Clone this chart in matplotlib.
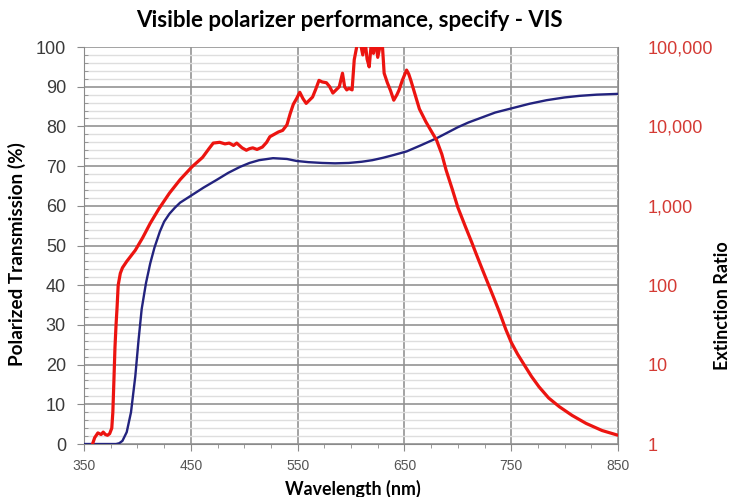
#!/usr/bin/env python3
"""Visible polarizer performance chart"""
import numpy as np
import matplotlib.pyplot as plt
from matplotlib.ticker import MultipleLocator, FixedLocator, FuncFormatter

plt.rcParams['font.family'] = ['Liberation Sans', 'DejaVu Sans']

# polarized transmission (%)
trans_wl = [350, 380, 383, 386, 390, 394, 398, 401, 404, 408, 412, 416, 421,
            425, 430, 435, 440, 451, 462, 474, 485, 496, 505, 514, 527, 540,
            549, 560, 573, 585, 598, 610, 620, 630, 640, 652, 665, 680, 690,
            700, 710, 720, 735, 751, 767, 783, 800, 814, 830, 850]
trans_pct = [0, 0, 0.2, 0.8, 3, 8, 17, 26, 34, 40.5, 45.5, 49.5, 53.5,
             56, 58, 59.5, 60.8, 62.7, 64.6, 66.5, 68.3, 69.8, 70.8, 71.5, 72,
             71.8, 71.3, 71.0, 70.8, 70.7, 70.8, 71.1, 71.5, 72.1, 72.8, 73.7,
             75.2, 77, 78.4, 79.8, 81, 82, 83.5, 84.6, 85.7, 86.6, 87.3, 87.7,
             88, 88.2]

# extinction ratio (log10)
ext_wl = [358, 360, 363, 366, 368, 370, 372, 374, 376, 377, 378, 379, 380, 381,
          382, 384, 386, 390, 394, 398, 405, 412, 420, 430, 440, 451, 461, 467,
          471, 477, 482, 486, 490, 493, 498, 502, 505, 508, 512, 517, 521, 524,
          528, 532, 536, 540, 543, 546, 549, 552, 555, 558, 561, 564, 567, 570,
          573, 577, 580, 583, 586, 589, 592, 594, 596, 598, 601, 603, 606, 608,
          611, 613, 615, 617, 619, 621, 623, 625, 627, 629, 631, 634, 637, 640,
          643, 645, 648, 652, 654, 656, 660, 664, 670, 676, 680, 685, 689, 695,
          700, 707, 713, 717, 722, 728, 734, 739, 745, 750, 756, 762, 769, 776,
          785, 795, 807, 820, 835, 850]
ext_log10 = [0.0, 0.08, 0.14, 0.12, 0.15, 0.12, 0.11, 0.13, 0.2, 0.4, 0.8, 1.22,
             1.5, 1.73, 2.0, 2.15, 2.22, 2.3, 2.37, 2.44, 2.6, 2.78, 2.96, 3.16,
             3.33, 3.49, 3.61, 3.72, 3.79, 3.80, 3.78, 3.79, 3.76, 3.79, 3.73,
             3.70, 3.72, 3.73, 3.71, 3.74, 3.80, 3.87, 3.90, 3.93, 3.95, 4.02,
             4.16, 4.28, 4.35, 4.43, 4.35, 4.29, 4.33, 4.37, 4.47, 4.58, 4.56,
             4.55, 4.50, 4.42, 4.46, 4.50, 4.67, 4.50, 4.46, 4.48, 4.46, 4.84,
             5.05, 5.1, 4.9, 5.1, 4.85, 4.75, 5.05, 4.92, 5.1, 4.87, 5.0, 5.1,
             4.67, 4.55, 4.45, 4.33, 4.40, 4.46, 4.58, 4.71, 4.66, 4.58, 4.40,
             4.22, 4.06, 3.92, 3.83, 3.65, 3.45, 3.2, 2.98, 2.74, 2.54, 2.40,
             2.23, 2.03, 1.83, 1.66, 1.44, 1.28, 1.13, 1.00, 0.85, 0.72, 0.58,
             0.47, 0.36, 0.26, 0.17, 0.11]

x_ticks = [350, 450, 550, 650, 750, 850]
ext_ticks = [1, 10, 100, 1000, 10000, 100000]

fig = plt.figure(figsize=(7.33, 4.97), dpi=100)
ax = fig.add_axes([0.1146, 0.1066, 0.7286, 0.7988])

ax.plot(trans_wl, trans_pct, color='#23237e', lw=1.7, zorder=3)
ax.set_xlim(350, 850)
ax.set_ylim(0, 100)
ax.xaxis.set_major_locator(FixedLocator(x_ticks))
ax.xaxis.set_minor_locator(MultipleLocator(25))
ax.yaxis.set_major_locator(MultipleLocator(10))
ax.yaxis.set_minor_locator(MultipleLocator(2))
ax.grid(which='major', axis='y', color='#949494', lw=1.2)
ax.grid(which='minor', axis='y', color='#dedede', lw=1.0)
ax.grid(which='major', axis='x', color='#949494', lw=1.2)
ax.set_axisbelow(True)
for side in ['left', 'bottom', 'right', 'top']:
    ax.spines[side].set_color('#8a8a8a')
ax.spines['top'].set_visible(False)
ax.tick_params(which='both', right=True, colors='#8a8a8a',
               labelcolor='#3a3a3a')
ax.tick_params(axis='y', which='major', direction='out', length=5,
               labelsize=13, pad=8)
ax.tick_params(axis='y', which='minor', direction='in', length=3)
ax.tick_params(axis='x', which='major', direction='out', length=5,
               labelsize=10, labelcolor='#555555', pad=6)
ax.tick_params(axis='x', which='minor', direction='out', length=3)

ax2 = ax.twinx()
ax2.plot(ext_wl, 10 ** np.array(ext_log10), color='#ec1410', lw=2.3,
         zorder=4)
ax2.set_yscale('log')
ax2.set_ylim(1, 100000)
ax2.yaxis.set_major_locator(FixedLocator(ext_ticks))
ax2.yaxis.set_minor_locator(FixedLocator([]))
ax2.yaxis.set_major_formatter(FuncFormatter(lambda v, p: f'{v:,.0f}'))
ax2.tick_params(axis='y', length=0, pad=21, labelsize=13,
                labelcolor='#d43a34')
for side in ['left', 'bottom', 'right', 'top']:
    ax2.spines[side].set_visible(False)

fig.text(0.477, 0.958, 'Visible polarizer performance, specify - VIS',
         ha='center', va='center', fontsize=16, fontweight='bold',
         family='Lato')
fig.text(0.482, 0.016, 'Wavelength (nm)', ha='center', va='center',
         fontsize=12.8, fontweight='bold', family='Lato')
fig.text(0.023, 0.489, 'Polarized Transmission (%)', ha='center',
         va='center', rotation=90, fontsize=13.6, fontweight='bold',
         family='Lato')
fig.text(0.986, 0.386, 'Extinction Ratio', ha='center', va='center',
         rotation=90, fontsize=13, fontweight='bold', family='Lato')

fig.savefig('out.png', dpi=100)
